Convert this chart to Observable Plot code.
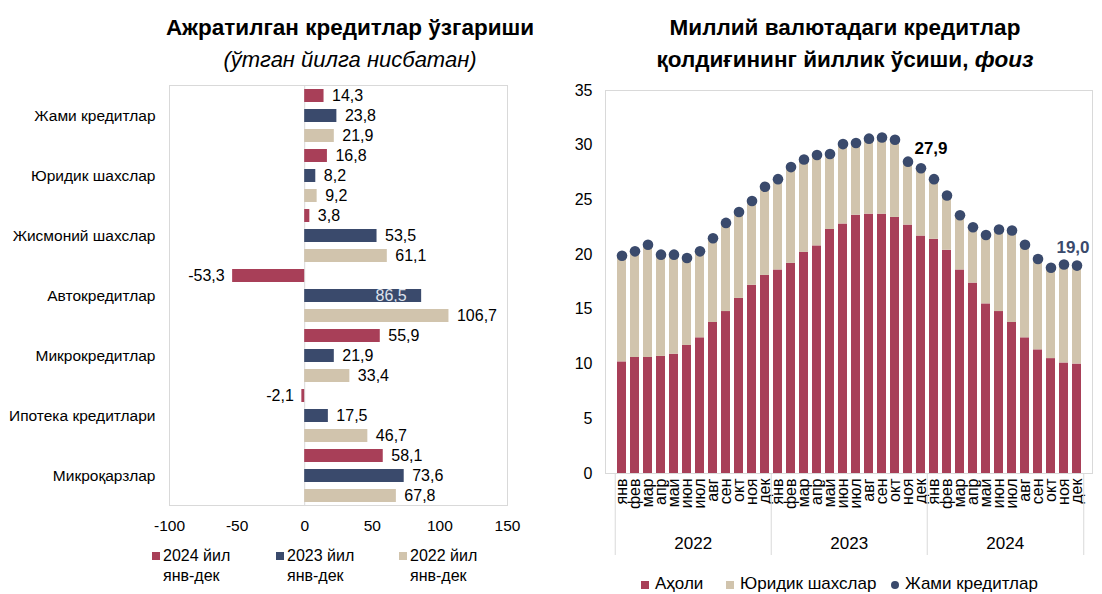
<!DOCTYPE html>
<html><head><meta charset="utf-8">
<script src="https://cdn.jsdelivr.net/npm/d3@7"></script>
<script src="https://cdn.jsdelivr.net/npm/@observablehq/plot@0.6"></script>
<style>
body{margin:0;width:1102px;height:594px;background:#fff;position:relative;overflow:hidden;font-family:"Liberation Sans Narrow","Arial Narrow","Liberation Sans",sans-serif;color:#000}
.abs{position:absolute}
.title{font-weight:bold;font-size:22.5px;text-align:center;white-space:nowrap;line-height:26px}
.sub{font-style:italic;font-size:22px;text-align:center;white-space:nowrap;line-height:26px}
.lg{font-size:16px;line-height:20px;white-space:nowrap}
.sw{position:absolute;width:8px;height:8px}
</style></head><body>
<script>
// ---------- Left chart data ----------
const categories = ["Жами кредитлар","Юридик шахслар","Жисмоний шахслар","Автокредитлар","Микрокредитлар","Ипотека кредитлари","Микроқарзлар"];
const seriesNames = ["2024","2023","2022"];
const v2024 = [14.3, 16.8, 3.8, -53.3, 55.9, -2.1, 58.1];
const v2023 = [23.8, 8.2, 53.5, 86.5, 21.9, 17.5, 73.6];
const v2022 = [21.9, 9.2, 61.1, 106.7, 33.4, 46.7, 67.8];
const xTicks = [-100, -50, 0, 50, 100, 150];
const insideLabels = ["Автокредитлар|2023"];

// ---------- Right chart data ----------
const years = ["2022","2023","2024"];
const months = ["янв","фев","мар","апр","май","июн","июл","авг","сен","окт","ноя","дек"];
const ahali = [10.2,10.6,10.6,10.7,10.9,11.7,12.4,13.8,14.8,16.0,17.2,18.1,
               18.6,19.2,20.2,20.8,22.3,22.8,23.6,23.7,23.7,23.4,22.7,21.7,
               21.4,20.4,18.6,17.4,15.5,14.8,13.8,12.4,11.3,10.5,10.1,10.0];
const yuridik = [9.7,9.7,10.3,9.3,9.1,8.0,7.9,7.7,8.1,7.9,7.7,8.1,
                 8.3,8.8,8.5,8.3,6.9,7.3,6.6,6.9,7.0,7.1,5.8,6.2,
                 5.5,5.0,5.0,5.1,6.3,7.5,8.4,8.5,8.3,8.3,9.0,9.0];
const jami = [19.9,20.3,20.9,20.0,20.0,19.7,20.3,21.5,22.9,23.9,24.9,26.2,
              26.9,28.0,28.7,29.1,29.2,30.1,30.2,30.6,30.7,30.5,28.5,27.9,
              26.9,25.4,23.6,22.5,21.8,22.3,22.2,20.9,19.6,18.8,19.1,19.0];
const yTicks = [0,5,10,15,20,25,30,35];
const labeledBlack = ["2023|дек"];
const labeledNavy = ["2024|дек"];

const RED = "#a83f58", NAVY = "#3a4a6c", BEIGE = "#d1c4ad", GRID = "#d9d9d9";
const FONT = '"Liberation Sans Narrow","Arial Narrow","Liberation Sans",sans-serif';
const fmt = v => v.toFixed(1).replace(".", ",");

function addDiv(cls, html, left, top, width){
  const d = document.createElement("div");
  d.className = "abs " + cls; d.innerHTML = html;
  d.style.left = left + "px"; d.style.top = top + "px"; if (width) d.style.width = width + "px";
  document.body.appendChild(d); return d;
}
addDiv("title", "Ажратилган кредитлар ўзгариши", 150, 15, 400);
addDiv("sub", "(ўтган йилга нисбатан)", 150, 47, 400);
addDiv("title", "Миллий валютадаги кредитлар", 645, 15, 400);
addDiv("title", "қолдиғининг йиллик ўсиши, <i>фоиз</i>", 645, 47, 400);

// ---------- Left chart ----------
const vals = {"2024": v2024, "2023": v2023, "2022": v2022};
const colors = {"2024": RED, "2023": NAVY, "2022": BEIGE};
const rows = [];
categories.forEach((c, i) => seriesNames.forEach(s => rows.push({cat: c, s, key: c + "|" + s, v: vals[s][i]})));
const keys = rows.map(r => r.key);

const left = Plot.plot({
  width: 550, height: 460,
  marginLeft: 169, marginRight: 43, marginTop: 5, marginBottom: 35,
  style: {fontFamily: FONT, fontSize: "15.5px", color: "#000", background: "transparent"},
  x: {domain: [-100, 150], ticks: xTicks, tickSize: 0, tickPadding: 14, label: null, tickFormat: d => String(d)},
  y: {domain: keys, paddingInner: 0.35, paddingOuter: 0.175, label: null, tickSize: 0, tickPadding: 14,
      ticks: keys.filter(k => k.endsWith("|2023")), tickFormat: k => k.split("|")[0]},
  color: {domain: seriesNames, range: seriesNames.map(s => colors[s])},
  marks: [
    Plot.frame({stroke: GRID}),
    Plot.ruleX([0], {stroke: GRID}),
    Plot.barX(rows, {x: "v", y: "key", fill: "s"}),
    Plot.text(rows.filter(r => r.v >= 0 && !insideLabels.includes(r.key)), {x: "v", y: "key", text: r => fmt(r.v), textAnchor: "start", dx: 8, fontSize: 16}),
    Plot.text(rows.filter(r => r.v < 0), {x: "v", y: "key", text: r => fmt(r.v), textAnchor: "end", dx: -8, fontSize: 16}),
    Plot.text(rows.filter(r => insideLabels.includes(r.key)), {x: "v", y: "key", text: r => fmt(r.v), textAnchor: "end", dx: -15, fontSize: 16, fill: "#dfe3ec"})
  ]
});
const ld = addDiv("", "", 0, 80); ld.appendChild(left);

// left legend
const legL = [["2024 йил", "янв-дек", RED, 152], ["2023 йил", "янв-дек", NAVY, 276], ["2022 йил", "янв-дек", BEIGE, 399]];
legL.forEach(([a, b, c, x]) => {
  const sw = addDiv("sw", "", x, 552); sw.style.background = c;
  addDiv("lg", a + "<br>" + b, x + 11, 546);
});

// ---------- Right chart ----------
const mkeys = [];
years.forEach(y => months.forEach(m => mkeys.push(y + "|" + m)));
const stackRows = [];
mkeys.forEach((k, i) => {
  stackRows.push({k, s: "Аҳоли", v: ahali[i]});
  stackRows.push({k, s: "Юридик шахслар", v: yuridik[i]});
});
const pts = mkeys.map((k, i) => ({k, v: jami[i]}));
const step = 487 / 36;

const right = Plot.plot({
  width: 542, height: 480,
  marginLeft: 45, marginRight: 10, marginTop: 10, marginBottom: 87,
  style: {fontFamily: FONT, fontSize: "16px", color: "#000", background: "transparent"},
  x: {domain: mkeys, paddingInner: 0.33, paddingOuter: 0.165, label: null, tickSize: 0, tickPadding: 5, tickRotate: -90, tickFormat: k => k.split("|")[1]},
  y: {domain: [0, 35], ticks: yTicks, tickSize: 0, tickPadding: 13, label: null},
  color: {domain: ["Аҳоли", "Юридик шахслар"], range: [RED, BEIGE]},
  marks: [
    Plot.frame({stroke: GRID}),
    Plot.barY(stackRows, {x: "k", y: "v", fill: "s", order: null}),
    Plot.ruleX([mkeys[0], mkeys[12], mkeys[24]], {x: d => d, dx: -step / 2, stroke: GRID, insetTop: 383, insetBottom: -82}),
    Plot.ruleX([mkeys[35]], {x: d => d, dx: step / 2, stroke: GRID, insetTop: 383, insetBottom: -82}),
    Plot.text(years, {x: y => y + "|июл", dx: -step / 2, frameAnchor: "bottom", dy: 75, text: d => d, fontSize: 17}),
    Plot.dot(pts, {x: "k", y: "v", r: 5.3, fill: NAVY}),
    Plot.text(pts.filter(p => labeledBlack.includes(p.k)), {x: "k", y: "v", text: p => fmt(p.v), dx: 10, dy: -20, fontWeight: "bold", fontSize: 17, fill: "#000"}),
    Plot.text(pts.filter(p => labeledNavy.includes(p.k)), {x: "k", y: "v", text: p => fmt(p.v), dx: -4, dy: -18, fontWeight: "bold", fontSize: 17, fill: NAVY})
  ]
});
const rd = addDiv("", "", 560, 80); rd.appendChild(right);

// right legend
const legR = [["Аҳоли", RED, 641, false], ["Юридик шахслар", BEIGE, 726, false], ["Жами кредитлар", NAVY, 891, true]];
legR.forEach(([t, c, x, round]) => {
  const sw = addDiv("sw", "", x, 581); sw.style.background = c; if (round) sw.style.borderRadius = "50%";
  const d = addDiv("lg", t, x + 14, 575); d.style.fontSize = "17px"; d.style.lineHeight = "18px";
});
</script>
</body></html>
